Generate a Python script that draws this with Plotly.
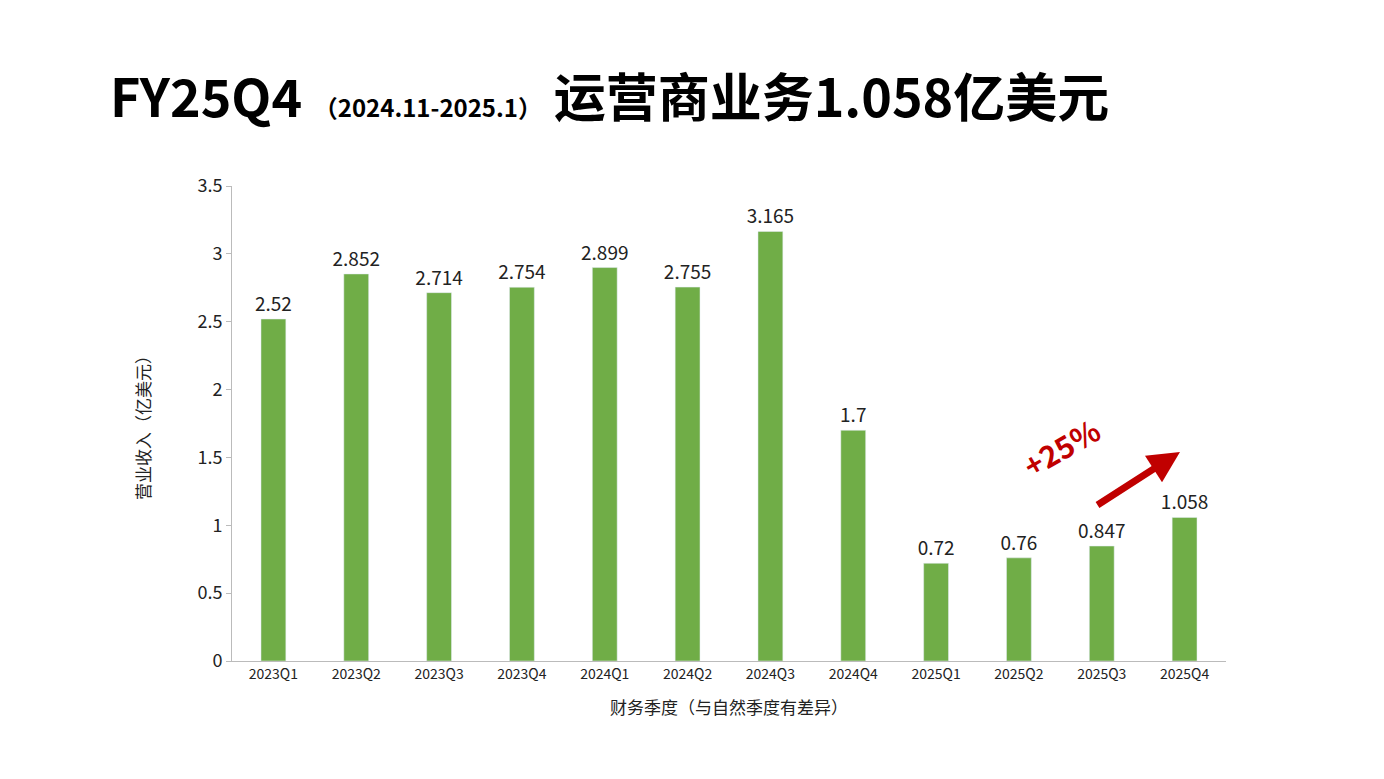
import plotly.graph_objects as go

quarters = ["2023Q1","2023Q2","2023Q3","2023Q4","2024Q1","2024Q2","2024Q3","2024Q4","2025Q1","2025Q2","2025Q3","2025Q4"]
revenue = [2.52,2.852,2.714,2.754,2.899,2.755,3.165,1.7,0.72,0.76,0.847,1.058]
labels = ["2.52","2.852","2.714","2.754","2.899","2.755","3.165","1.7","0.72","0.76","0.847","1.058"]

fig = go.Figure(go.Bar(x=quarters, y=revenue, text=labels, textposition="outside",
    constraintext="none", textfont=dict(size=19, color="#222"), marker_color="#70AD47",
    width=0.3, cliponaxis=False))

L, T = 224, 178
fig.update_layout(
    width=1384, height=779, plot_bgcolor="white", paper_bgcolor="white",
    margin=dict(l=L, r=166, t=T, b=126, autoexpand=False),
    font=dict(family="Noto Sans CJK SC, Noto Sans", color="#222"),
    showlegend=False,
    uniformtext=dict(minsize=19, mode="show"),
    xaxis=dict(showline=True, linecolor="#bbb", ticks="", tickfont=dict(size=14), automargin=False,
               title=dict(text="财务季度（与自然季度有差异）", font=dict(size=17), standoff=20)),
    yaxis=dict(range=[0,3.5], dtick=0.5, showline=True, linecolor="#bbb", ticks="outside",
               tickcolor="#bbb", ticklen=5, showgrid=False, tickfont=dict(size=18), automargin=False,
               title=dict(text="营业收入（亿美元）", font=dict(size=17), standoff=42)),
    annotations=[
        dict(text="<b>FY25Q4</b> <b><span style='font-size:24px'>（2024.11-2025.1）</span></b> <b>运营商业务1.058亿美元</b>",
             xref="paper", yref="paper", x=(100-L)/994, y=(653-87)/475, xanchor="left", yanchor="middle",
             showarrow=False, font=dict(size=52, color="black")),
        dict(xref="paper", yref="paper", x=(1172-L)/994, y=(653-444)/475,
             ax=-84, ay=54, showarrow=True, arrowhead=2, arrowsize=0.9, arrowwidth=7,
             arrowcolor="#C00000", text=""),
        dict(text="<b>+25%</b>", xref="paper", yref="paper", x=(1102-L)/994, y=(653-439)/475,
             showarrow=False, textangle=-30, font=dict(size=30, color="#C00000")),
    ],
)
fig.write_html("out.html")
